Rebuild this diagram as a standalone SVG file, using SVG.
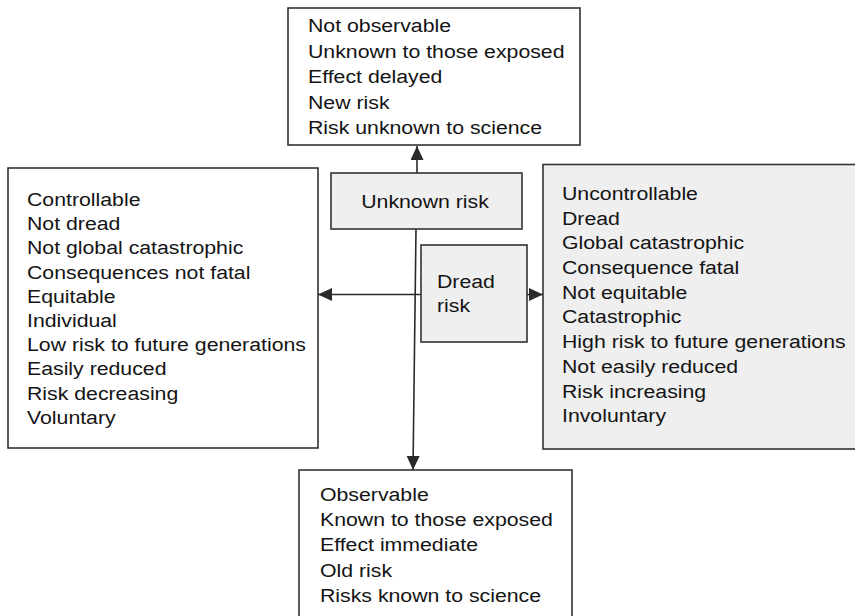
<svg xmlns="http://www.w3.org/2000/svg" width="855" height="616" viewBox="0 0 855 616">
  <style>
    .box { stroke: #333; stroke-width: 1.6; }
    .white { fill: #fff; }
    .grey { fill: #efefef; }
    .conn { stroke: #2a2a2a; stroke-width: 1.6; fill: none; }
    text { font-family: "Liberation Sans", Arial, sans-serif; font-size: 19px; fill: #141414; }
  </style>
  <defs>
    <marker id="arrow" markerUnits="userSpaceOnUse" markerWidth="15" markerHeight="14" refX="14" refY="6.5" orient="auto">
      <path d="M0,0 L14,6.5 L0,13 Z" fill="#2a2a2a"/>
    </marker>
  </defs>
  <rect width="855" height="616" fill="#fff"/>

  <!-- connectors -->
  <g id="connectors">
    <line class="conn" x1="417" y1="173" x2="417" y2="146" marker-end="url(#arrow)"/>
    <line class="conn" x1="416" y1="229" x2="413" y2="470" marker-end="url(#arrow)"/>
    <line class="conn" x1="421" y1="294.5" x2="318" y2="294.5" marker-end="url(#arrow)"/>
    <line class="conn" x1="527" y1="294.5" x2="543" y2="294.5" marker-end="url(#arrow)"/>
  </g>

  <!-- unknown-risk characteristics -->
  <g id="unknown-list">
    <rect class="box white" x="288" y="8" width="292" height="137"/>
    <g transform="translate(308,0) scale(1.12,1)">
      <text x="0" y="32.5">Not observable</text>
      <text x="0" y="58">Unknown to those exposed</text>
      <text x="0" y="83.5">Effect delayed</text>
      <text x="0" y="109">New risk</text>
      <text x="0" y="134.5">Risk unknown to science</text>
    </g>
  </g>

  <!-- central axis labels -->
  <g id="unknown-risk">
    <rect class="box grey" x="331" y="173" width="191" height="56"/>
    <g transform="translate(425,0) scale(1.12,1)">
      <text x="0" y="208" text-anchor="middle">Unknown risk</text>
    </g>
  </g>

  <g id="dread-risk">
    <rect class="box grey" x="421" y="245" width="106" height="97"/>
    <g transform="translate(437,0) scale(1.12,1)">
      <text x="0" y="288">Dread</text>
      <text x="0" y="312">risk</text>
    </g>
  </g>

  <!-- not-dread characteristics -->
  <g id="not-dread-list">
    <rect class="box white" x="8" y="168" width="310" height="280"/>
    <g transform="translate(27,0) scale(1.12,1)">
      <text x="0" y="206">Controllable</text>
      <text x="0" y="230.2">Not dread</text>
      <text x="0" y="254.4">Not global catastrophic</text>
      <text x="0" y="278.6">Consequences not fatal</text>
      <text x="0" y="302.8">Equitable</text>
      <text x="0" y="327">Individual</text>
      <text x="0" y="351.2">Low risk to future generations</text>
      <text x="0" y="375.4">Easily reduced</text>
      <text x="0" y="399.6">Risk decreasing</text>
      <text x="0" y="423.8">Voluntary</text>
    </g>
  </g>

  <!-- dread characteristics -->
  <g id="dread-list">
    <rect class="box grey" x="543" y="164.5" width="320" height="284.5"/>
    <g transform="translate(562,0) scale(1.12,1)">
      <text x="0" y="200">Uncontrollable</text>
      <text x="0" y="224.7">Dread</text>
      <text x="0" y="249.4">Global catastrophic</text>
      <text x="0" y="274.1">Consequence fatal</text>
      <text x="0" y="298.8">Not equitable</text>
      <text x="0" y="323.5">Catastrophic</text>
      <text x="0" y="348.2">High risk to future generations</text>
      <text x="0" y="372.9">Not easily reduced</text>
      <text x="0" y="397.6">Risk increasing</text>
      <text x="0" y="422.3">Involuntary</text>
    </g>
  </g>

  <!-- known-risk characteristics -->
  <g id="known-list">
    <rect class="box white" x="299" y="470" width="273" height="152"/>
    <g transform="translate(320,0) scale(1.12,1)">
      <text x="0" y="501">Observable</text>
      <text x="0" y="526.2">Known to those exposed</text>
      <text x="0" y="551.4">Effect immediate</text>
      <text x="0" y="576.6">Old risk</text>
      <text x="0" y="601.8">Risks known to science</text>
    </g>
  </g>
</svg>
